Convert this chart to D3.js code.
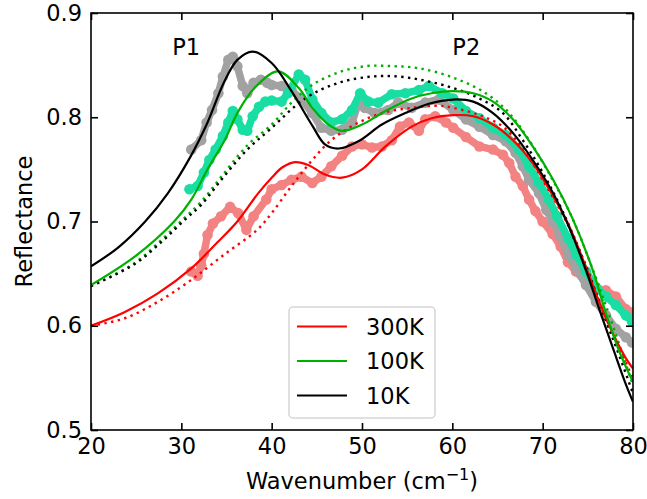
<!DOCTYPE html>
<html>
<head>
<meta charset="utf-8">
<script src="https://cdn.jsdelivr.net/npm/d3@7"></script>
<style>
  body { margin: 0; background: #fff; }
  text { font-family: "DejaVu Sans", sans-serif; }
</style>
</head>
<body>
<div id="chart"></div>
<script>
// measured data (wavenumber, reflectance)
const data300K = [[31.1,0.652],[31.8,0.648],[32.2,0.658],[32.5,0.669],[32.9,0.687],[33.5,0.698],[34.4,0.705],[35.4,0.714],[36.3,0.708],[37.2,0.692],[38.0,0.705],[39.4,0.721],[40.0,0.731],[41.1,0.735],[42.2,0.740],[43.3,0.743],[44.5,0.737],[45.5,0.743],[46.6,0.753],[47.8,0.763],[48.9,0.772],[50.0,0.774],[51.1,0.771],[52.2,0.772],[53.3,0.778],[54.2,0.791],[55.2,0.795],[56.3,0.787],[57.0,0.798],[58.1,0.801],[59.3,0.795],[60.1,0.790],[61.5,0.781],[63.0,0.772],[64.5,0.769],[65.6,0.764],[66.3,0.756],[67.0,0.743],[67.8,0.734],[68.5,0.721],[69.2,0.710],[70.0,0.700],[71.1,0.688],[72.0,0.676],[72.8,0.661],[73.7,0.652],[74.8,0.642],[75.9,0.636],[77.0,0.634],[78.1,0.628],[79.2,0.616],[80.0,0.613]]
const data100K = [[30.9,0.731],[31.8,0.734],[32.5,0.747],[33.1,0.759],[33.8,0.769],[34.6,0.782],[35.2,0.795],[35.7,0.806],[36.2,0.798],[36.8,0.788],[37.3,0.787],[37.9,0.801],[38.6,0.810],[39.3,0.815],[40.0,0.816],[41.1,0.815],[41.8,0.823],[43.0,0.841],[43.7,0.836],[44.5,0.817],[45.5,0.804],[46.6,0.795],[47.8,0.798],[48.9,0.807],[49.8,0.823],[50.7,0.815],[51.8,0.814],[53.3,0.822],[54.8,0.823],[56.3,0.826],[57.4,0.830],[58.9,0.823],[60.1,0.818],[61.5,0.806],[63.0,0.799],[64.5,0.790],[65.9,0.783],[67.4,0.769],[68.5,0.753],[69.6,0.737],[70.7,0.721],[71.6,0.705],[72.8,0.684],[73.7,0.668],[74.8,0.652],[75.9,0.637],[77.0,0.628],[78.1,0.620],[79.2,0.610],[79.9,0.604]]
const data10K = [[31.1,0.769],[32.2,0.778],[32.8,0.795],[33.4,0.807],[34.1,0.823],[34.6,0.839],[35.2,0.855],[35.7,0.858],[36.2,0.849],[36.8,0.830],[37.3,0.823],[38.0,0.833],[38.8,0.836],[39.5,0.833],[40.0,0.831],[41.1,0.830],[42.2,0.826],[43.3,0.817],[44.5,0.804],[45.5,0.790],[46.6,0.787],[47.8,0.788],[48.9,0.795],[49.6,0.814],[50.3,0.809],[51.4,0.804],[52.9,0.807],[54.0,0.814],[55.5,0.809],[57.0,0.814],[58.5,0.817],[60.1,0.807],[61.5,0.798],[63.0,0.791],[64.5,0.783],[65.9,0.777],[67.0,0.766],[67.8,0.753],[68.5,0.740],[69.6,0.727],[70.4,0.711],[71.1,0.700],[71.9,0.687],[72.8,0.668],[73.7,0.655],[74.8,0.639],[75.9,0.623],[77.0,0.610],[78.1,0.597],[79.2,0.589],[79.9,0.584]]

// two-peak fits (solid)
const fit300K = [[20,0.600],[23.7,0.613],[27.4,0.631],[31.1,0.655],[34.0,0.680],[36.2,0.700],[38.5,0.727],[40.0,0.742],[41.2,0.752],[42.6,0.757],[44.1,0.754],[45.9,0.745],[47.8,0.742],[50.0,0.750],[52.6,0.772],[55.5,0.791],[57.7,0.799],[60.1,0.802],[62.3,0.801],[64.5,0.793],[66.7,0.778],[68.9,0.756],[71.1,0.725],[72.8,0.698],[74.8,0.656],[76.3,0.622],[77.8,0.592],[79.2,0.569],[80,0.559]]
const fit100K = [[20,0.639],[24.8,0.666],[29.2,0.700],[31.1,0.721],[32.9,0.750],[34.8,0.778],[36.2,0.804],[38.1,0.828],[40.7,0.844],[43.0,0.828],[44.5,0.809],[46.3,0.793],[47.8,0.787],[50.0,0.793],[52.6,0.806],[55.5,0.818],[57.7,0.823],[60.1,0.825],[62.3,0.823],[64.5,0.815],[66.7,0.798],[68.9,0.772],[71.1,0.741],[73.3,0.703],[75.6,0.652],[77.0,0.612],[78.5,0.575],[80,0.546]]
const fit10K = [[20,0.657],[23,0.675],[26,0.700],[28.5,0.727],[31,0.762],[32.9,0.795],[34.7,0.833],[36.2,0.855],[37.9,0.863],[40.0,0.852],[42.2,0.825],[44.5,0.792],[45.9,0.774],[47.4,0.770],[49.6,0.777],[52.2,0.793],[54.8,0.804],[57.4,0.813],[60.1,0.817],[62.3,0.815],[64.5,0.804],[66.7,0.785],[68.9,0.759],[71.1,0.728],[72.8,0.697],[74.8,0.653],[76.3,0.615],[77.8,0.578],[79.2,0.544],[80,0.527]]

// one-peak fits (dotted)
const single300K = [[20,0.600],[23.7,0.607],[27.4,0.623],[31.1,0.644],[34.7,0.668],[38.4,0.692],[40.0,0.708],[42.2,0.734],[44.5,0.759],[46.6,0.778],[49.2,0.793],[52.2,0.804],[55.5,0.809],[58.5,0.811],[60.1,0.809],[63.0,0.802],[65.6,0.791],[68.1,0.766],[70.4,0.734],[72.6,0.700],[74.8,0.657],[77.0,0.607],[80,0.550]]
const single100K = [[20,0.638],[24.8,0.660],[28,0.684],[30.3,0.703],[32.2,0.719],[34.7,0.746],[37.3,0.773],[40.0,0.793],[42.2,0.814],[44.5,0.831],[47.4,0.843],[50.4,0.849],[53.4,0.849],[56.3,0.847],[60.1,0.838],[63.7,0.823],[66.3,0.804],[68.5,0.778],[71.1,0.740],[73.3,0.703],[75.5,0.655],[77.5,0.607],[80,0.543]]
const single10K = [[20,0.638],[24.8,0.659],[28,0.682],[30.3,0.701],[32.2,0.716],[34.7,0.743],[37.3,0.769],[39.9,0.789],[43.7,0.818],[47.4,0.833],[51.1,0.839],[54.1,0.839],[57.0,0.835],[60.1,0.828],[63.0,0.818],[65.6,0.804],[67.8,0.778],[70.0,0.747],[72.2,0.710],[74.8,0.657],[77.0,0.605],[78.5,0.571],[80,0.535]]

const labels = ["300K", "100K", "10K"]
const xTicks = [20, 30, 40, 50, 60, 70, 80]
const yTicks = [0.5, 0.6, 0.7, 0.8, 0.9]

const outerWidth = 647
const outerHeight = 499
const margin = {top: 13, right: 14, bottom: 69, left: 91}
const width = outerWidth - margin.left - margin.right
const height = outerHeight - margin.top - margin.bottom

const svg = d3.select("#chart")
    .append("svg")
    .attr("width", outerWidth)
    .attr("height", outerHeight)

const g = svg.append("g")
    .attr("transform", `translate(${margin.left}, ${margin.top})`)

const x = d3.scaleLinear().domain([20, 80]).range([0, width])
const y = d3.scaleLinear().domain([0.5, 0.9]).range([height, 0])

const fontSize = 22.5

// Clip
g.append("clipPath").attr("id", "clip")
    .append("rect").attr("width", width).attr("height", height)

const plot = g.append("g").attr("clip-path", "url(#clip)")

const lineLinear = d3.line().x(d => x(d[0])).y(d => y(d[1]))
const lineSmooth = d3.line().x(d => x(d[0])).y(d => y(d[1])).curve(d3.curveCatmullRom)

// Measured data: markers with connecting line
const measured = [
    {data: data300K, color: "#f38383"},
    {data: data10K, color: "#a2a2a2"},
    {data: data100K, color: "#19dea3"}
]

measured.forEach(s => {
    plot.append("path")
        .datum(s.data)
        .attr("d", lineLinear)
        .attr("fill", "none")
        .attr("stroke", s.color)
        .attr("stroke-width", 7.5)
        .attr("stroke-linejoin", "round")
    plot.append("g")
        .selectAll("circle")
        .data(s.data)
        .enter()
        .append("circle")
        .attr("cx", d => x(d[0]))
        .attr("cy", d => y(d[1]))
        .attr("r", 5.3)
        .attr("fill", s.color)
})

// Fits
const fits = [
    {solid: fit300K, dotted: single300K, color: "#ff0000"},
    {solid: fit100K, dotted: single100K, color: "#00b000"},
    {solid: fit10K, dotted: single10K, color: "#000000"}
]

fits.forEach(f => {
    plot.append("path")
        .datum(f.dotted)
        .attr("d", lineSmooth)
        .attr("fill", "none")
        .attr("stroke", f.color)
        .attr("stroke-width", 2.4)
        .attr("stroke-dasharray", "2.4,4.4")
})

fits.forEach(f => {
    plot.append("path")
        .datum(f.solid)
        .attr("d", lineSmooth)
        .attr("fill", "none")
        .attr("stroke", f.color)
        .attr("stroke-width", 2.2)
})

// Axes (ticks inward on all sides)
const xAxis = g.append("g")
    .attr("transform", `translate(0, ${height})`)
    .call(d3.axisBottom(x).tickValues(xTicks).tickFormat(d3.format("d"))
        .tickSizeInner(-7).tickSizeOuter(0).tickPadding(8))
const yAxis = g.append("g")
    .call(d3.axisLeft(y).tickValues(yTicks).tickFormat(d3.format(".1f"))
        .tickSizeInner(-7).tickSizeOuter(0).tickPadding(9))
const xTop = g.append("g")
    .call(d3.axisTop(x).tickValues(xTicks).tickFormat("")
        .tickSizeInner(-7).tickSizeOuter(0))
const yRight = g.append("g")
    .attr("transform", `translate(${width}, 0)`)
    .call(d3.axisRight(y).tickValues(yTicks).tickFormat("")
        .tickSizeInner(-7).tickSizeOuter(0))

;[xAxis, yAxis, xTop, yRight].forEach(a => {
    a.select(".domain").remove()
    a.selectAll(".tick line").attr("stroke", "#000").attr("stroke-width", 1.6)
    a.selectAll(".tick text")
        .attr("fill", "#000")
        .style("font-size", fontSize + "px")
        .style("font-family", "DejaVu Sans")
})

g.append("rect")
    .attr("width", width)
    .attr("height", height)
    .attr("fill", "none")
    .attr("stroke", "#000")
    .attr("stroke-width", 1.6)

// Peak annotations
g.append("text")
    .attr("x", x(29))
    .attr("y", y(0.86))
    .style("font-size", fontSize + "px")
    .text("P1")
g.append("text")
    .attr("x", x(60))
    .attr("y", y(0.86))
    .style("font-size", fontSize + "px")
    .text("P2")

// Axis labels
svg.append("text")
    .attr("transform", `translate(32, ${margin.top + height / 2}) rotate(-90)`)
    .attr("text-anchor", "middle")
    .style("font-size", fontSize + "px")
    .text("Reflectance")

const xLabel = svg.append("text")
    .attr("x", margin.left + width / 2)
    .attr("y", 489)
    .attr("text-anchor", "middle")
    .style("font-size", fontSize + "px")
xLabel.append("tspan").text("Wavenumber (cm")
xLabel.append("tspan").attr("dy", -9).style("font-size", "16px").text("\u22121")
xLabel.append("tspan").attr("dy", 9).text(")")

// Legend
const legend = g.append("g")
    .attr("transform", "translate(198, 294)")

legend.append("rect")
    .attr("width", 146)
    .attr("height", 111)
    .attr("rx", 4)
    .attr("fill", "#fff")
    .attr("fill-opacity", 0.8)
    .attr("stroke", "#d6d6d6")
    .attr("stroke-width", 1.5)

labels.forEach((label, i) => {
    const row = legend.append("g")
        .attr("transform", `translate(0, ${19.5 + i * 34.5})`)
    row.append("line")
        .attr("x1", 8).attr("x2", 58)
        .attr("stroke", fits[i].color)
        .attr("stroke-width", 2.2)
    row.append("text")
        .attr("x", 77)
        .attr("dy", "0.36em")
        .style("font-size", fontSize + "px")
        .text(label)
})
</script>
</body>
</html>
